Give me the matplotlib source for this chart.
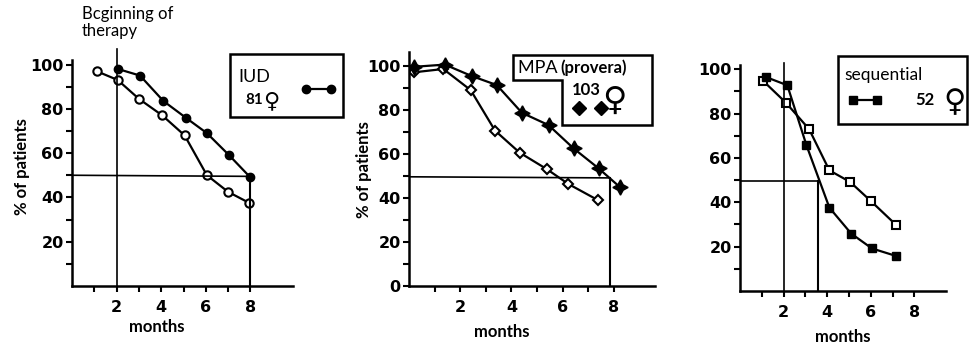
import matplotlib
matplotlib.use("Agg")
import matplotlib.pyplot as plt
from matplotlib.patches import Rectangle, Polygon
from matplotlib.lines import Line2D

plt.rcParams['font.family'] = ['Lato', 'DejaVu Sans']

# IUD
iud_x_filled = [2.05, 3.05, 4.1, 5.1, 6.05, 7.05, 8.0]
iud_filled = [98, 95, 83.5, 76, 69, 59, 49]
iud_x_open = [1.1, 2.05, 3.0, 4.05, 5.05, 6.05, 7.0, 7.95]
iud_open = [97, 93, 84.5, 77, 68, 50, 42.5, 37.5]

# MPA (provera)
mpa_x_filled = [0.2, 1.4, 2.45, 3.43, 4.41, 5.45, 6.43, 7.41, 8.25]
mpa_filled = [99.5, 100.5, 95.3, 91.2, 78.6, 73, 62.4, 53.3, 44.7]
mpa_x_open = [0.2, 1.34, 2.41, 3.36, 4.32, 5.38, 6.23, 7.38]
mpa_open = [97, 98.5, 88.9, 70.5, 60.5, 53, 46.2, 38.9]

# sequential
seq_x_filled = [1.19, 2.17, 3.05, 4.1, 5.1, 6.05, 7.16]
seq_filled = [96.5, 92.8, 65.7, 37.6, 25.9, 19.2, 15.8]
seq_x_open = [1.07, 2.1, 3.17, 4.1, 5.05, 6.0, 7.16]
seq_open = [94.7, 85, 73, 54.4, 49.2, 40.6, 29.8]

x_major = [2, 4, 6, 8]
x_minor = [1, 3, 5, 7]
y_minor = [10, 30, 50, 70, 90]

W, H = 969, 347
fig = plt.figure(figsize=(W / 100, H / 100), dpi=100)


def fx(x):
    return x / W


def fy(y):
    return 1 - y / H


tick_font = dict(fontsize=11.5, fontweight='bold', family='DejaVu Sans')


def make_axes(left, bottom, xmax, xscale, ymax, yscale, yticks):
    ax = fig.add_axes([fx(left), (H - bottom) / H, xmax * xscale / W, ymax * yscale / H])
    ax.set_xlim(0, xmax)
    ax.set_ylim(0, ymax)
    for s in ['top', 'right']:
        ax.spines[s].set_visible(False)
    for s in ['left', 'bottom']:
        ax.spines[s].set_linewidth(1.8)
    ax.set_xticks(x_major, labels=[str(v) for v in x_major], **tick_font)
    ax.set_xticks(x_minor, minor=True)
    ax.set_yticks(yticks, labels=[str(v) for v in yticks], **tick_font)
    ax.set_yticks(y_minor, minor=True)
    ax.tick_params(which='both', direction='out', length=4, width=1.5)
    ax.tick_params(axis='x', pad=6)
    ax.tick_params(axis='y', pad=2)
    return ax


lw = 1.6
ms = 6

# ---- panel 1: IUD
ax1 = make_axes(72, 286, 9.9, 22.3, 102, 2.215, [20, 40, 60, 80, 100])
ax1.plot(iud_x_open, iud_open, '-o', color='black', lw=lw, ms=ms, mfc='white', mew=1.5)
ax1.plot(iud_x_filled, iud_filled, '-o', color='black', lw=lw, ms=ms)
ax1.plot([2, 2], [0, 107], color='black', lw=1.2, clip_on=False)
ax1.plot([0, 8], [50, 49.5], color='black', lw=1.2)
ax1.plot([8, 8], [0, 49.5], color='black', lw=1.5)
fig.text(fx(82), fy(6), 'Bcginning of\ntherapy', fontsize=12, va='top', ha='left',
         linespacing=1.1)
fig.text(fx(22), fy(167), '% of patients', rotation=90, fontsize=12, fontweight='bold',
         ha='center', va='center')
fig.text(fx(157), fy(327), 'months', fontsize=12, fontweight='bold', ha='center', va='center')

# legend 1
fig.patches.append(Rectangle((fx(230), fy(117)), (343 - 230) / W, (117 - 54) / H,
                             transform=fig.transFigure, fill=False, lw=1.8, ec='black'))
fig.text(fx(238), fy(77), 'IUD', fontsize=13, ha='left', va='center')
fig.text(fx(245), fy(100), '81', fontsize=11, fontweight='bold', ha='left', va='center')
fig.text(fx(271), fy(101), '\u2640', fontsize=16, ha='center', va='center',
         family='DejaVu Sans', fontweight='bold')
fig.lines.append(Line2D([fx(306), fx(331)], [fy(88.5), fy(88.5)], transform=fig.transFigure,
                        color='black', lw=lw, marker='o', ms=ms))

# ---- panel 2: MPA
ax2 = make_axes(409, 285.7, 9.6, 25.6, 106, 2.2, [0, 20, 40, 60, 80, 100])
ax2.plot(mpa_x_open, mpa_open, '-D', color='black', lw=lw, ms=5.5, mfc='white', mew=1.5)
ax2.plot(mpa_x_filled, mpa_filled, '-', color='black', lw=lw, marker=(4, 1, 0), ms=11)
ax2.plot([0, 7.84], [49.5, 49.0], color='black', lw=1.2)
ax2.plot([7.84, 7.84], [0, 49.0], color='black', lw=1.5)
fig.text(fx(364), fy(170), '% of patients', rotation=90, fontsize=12, fontweight='bold',
         ha='center', va='center')
fig.text(fx(502), fy(332), 'months', fontsize=12, fontweight='bold', ha='center', va='center')

# legend 2 (stepped box)
box2 = [(513, 55), (652, 55), (652, 125), (562, 125), (562, 80), (513, 80)]
fig.patches.append(Polygon([(fx(x), fy(y)) for x, y in box2], closed=True,
                           transform=fig.transFigure, fill=False, lw=1.8, ec='black'))
fig.text(fx(518), fy(68), 'MPA ', fontsize=13, ha='left', va='center')
fig.text(fx(560), fy(68), '(provera)', fontsize=12, fontweight='bold', ha='left', va='center')
fig.text(fx(572), fy(90), '103', fontsize=12, fontweight='bold', ha='left', va='center')
fig.text(fx(614), fy(100), '\u2640', fontsize=24, ha='center', va='center',
         family='DejaVu Sans', fontweight='bold')
fig.lines.append(Line2D([fx(579), fx(601)], [fy(108), fy(108)], transform=fig.transFigure,
                        color='black', lw=0, marker='D', ms=7))

# ---- panel 3: sequential
ax3 = make_axes(740, 291, 9.45, 21.8, 102, 2.217, [20, 40, 60, 80, 100])
ax3.plot(seq_x_open, seq_open, '-s', color='black', lw=lw, ms=ms, mfc='white', mew=1.5)
ax3.plot(seq_x_filled, seq_filled, '-s', color='black', lw=lw, ms=ms)
ax3.plot([2, 2], [0, 103], color='black', lw=1.2, clip_on=False)
ax3.plot([0, 3.6], [49.6, 49.6], color='black', lw=1.2)
ax3.plot([3.6, 3.6], [0, 49.6], color='black', lw=1.5)
fig.text(fx(843), fy(337), 'months', fontsize=12, fontweight='bold', ha='center', va='center')

# legend 3
fig.patches.append(Rectangle((fx(838), fy(124)), (967 - 838) / W, (124 - 56) / H,
                             transform=fig.transFigure, fill=False, lw=1.8, ec='black'))
fig.text(fx(844), fy(75), 'sequential', fontsize=12.5, ha='left', va='center')
fig.lines.append(Line2D([fx(853), fx(877)], [fy(100), fy(100)], transform=fig.transFigure,
                        color='black', lw=lw, marker='s', ms=ms))
fig.text(fx(915), fy(100), '52', fontsize=12, fontweight='bold', ha='left', va='center')
fig.text(fx(955), fy(103), '\u2640', fontsize=22, ha='center', va='center',
         family='DejaVu Sans', fontweight='bold')

fig.savefig('out.png', dpi=100)
